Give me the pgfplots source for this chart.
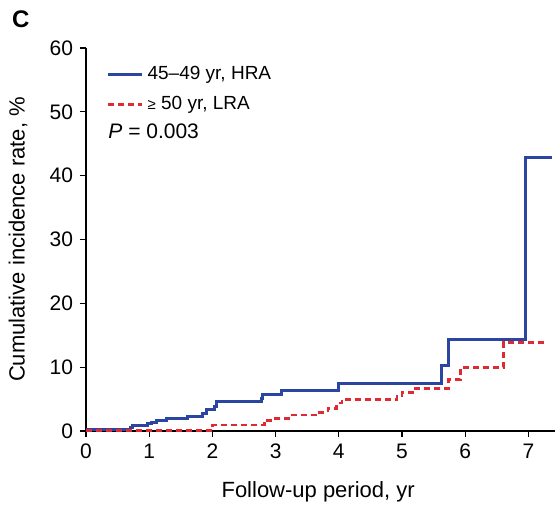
\documentclass[border=0pt]{standalone}
\usepackage{fontspec}
\setmainfont{Liberation Sans}
\usepackage{pgfplots}
\pgfplotsset{compat=1.18}

\definecolor{hra}{HTML}{2B46A0}
\definecolor{lra}{HTML}{DE2A32}

\begin{document}
\begin{tikzpicture}
\begin{axis}[
    scale only axis,
    width=234.5pt, height=191.5pt,
    xmin=0, xmax=7.42, ymin=0, ymax=60,
    axis x line=bottom, axis y line=left,
    axis line style={-, line width=0.6pt},
    xtick={0,...,7}, ytick={0,10,...,60},
    tick align=outside, major tick length=3pt,
    tick style={black, line width=0.6pt},
    /pgf/number format/assume math mode=true,
    ticklabel style={font=\fontsize{10.5}{12}\selectfont},
    xlabel={Follow-up period, yr},
    ylabel={Cumulative incidence rate, \%},
    label style={font=\fontsize{11}{13}\selectfont},
    xlabel style={at={(axis description cs:0.495,-0.159)}, anchor=center},
    ylabel style={at={(axis description cs:-0.145,0.5)}, anchor=center, rotate=0},
    legend style={draw=none, fill=none, at={(axis description cs:0.03,0.975)},
        anchor=north west, font=\fontsize{9.5}{11}\selectfont, row sep=3pt},
    legend cell align=left,
    every axis legend/.append style={/tikz/every even column/.append style={column sep=2pt}},
    clip=false,
]
\addplot[const plot, color=hra, line width=1.5pt] coordinates {
    (0,0.2) (0.70,0.5) (0.74,0.8) (0.97,1.1) (1.04,1.4) (1.12,1.7) (1.28,2.0)
    (1.61,2.35) (1.85,2.8) (1.91,3.4) (2.03,3.9) (2.06,4.7) (2.78,5.1) (2.80,5.75)
    (3.09,6.3) (4.00,7.5) (5.63,10.3) (5.74,14.4) (6.95,42.9) (7.38,42.9)
};
\addlegendentry{45–49 yr, HRA}
\addplot[const plot, color=lra, line width=1.4pt, dash pattern=on 3pt off 2pt] coordinates {
    (0,0.1) (2.00,0.94) (2.83,1.2) (2.87,1.7) (3.00,2.0) (3.20,2.5) (3.66,2.9)
    (3.83,3.5) (3.96,4.4) (4.05,4.9) (4.92,5.6) (5.00,6.0) (5.17,6.7) (5.73,8.1)
    (5.92,10.0) (6.61,13.9) (7.25,13.9)
};
\addlegendentry{{\fontsize{7.5}{9}\selectfont ≥} 50 yr, LRA}
\node[anchor=west, inner sep=0pt, font=\fontsize{10.5}{12}\selectfont] at (axis description cs:0.047,0.783) {\textit{P} = 0.003};
\node[font=\bfseries\fontsize{12}{14}\selectfont] at (axis description cs:-0.139,1.076) {C};
\end{axis}
\pgfresetboundingbox
\path[use as bounding box] (-43pt,-37pt) rectangle (235pt,215.5pt);
\end{tikzpicture}
\end{document}
